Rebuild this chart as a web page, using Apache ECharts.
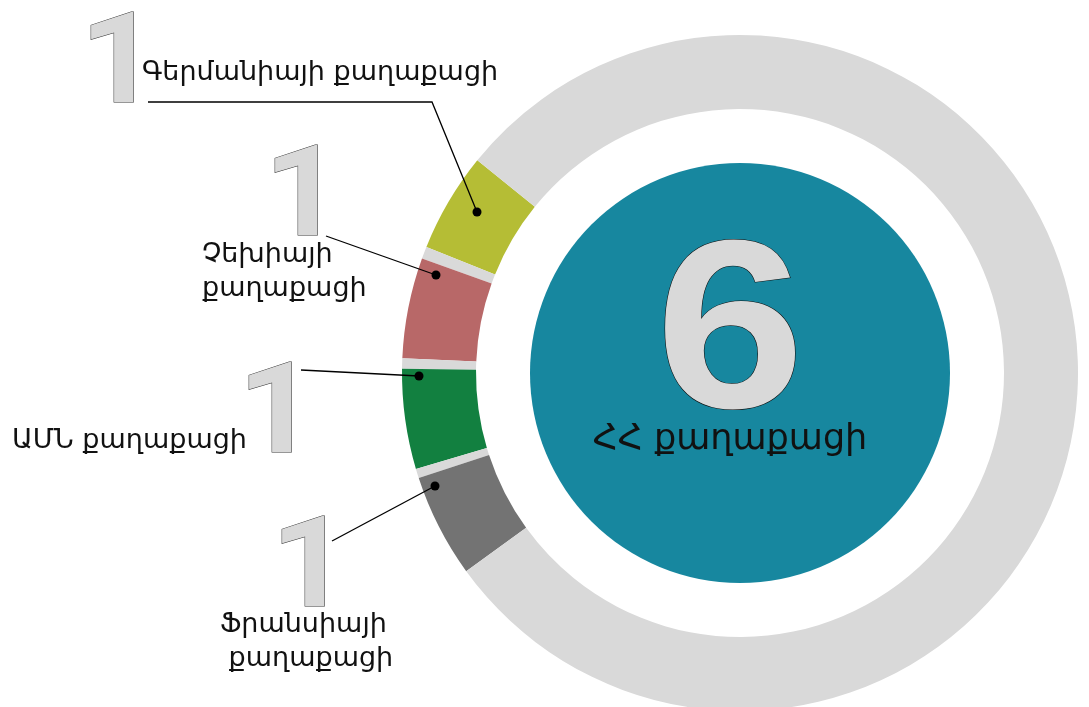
<!DOCTYPE html>
<html>
<head>
<meta charset="utf-8">
<script src="https://cdn.jsdelivr.net/npm/echarts@6/dist/echarts.min.js"></script>
<style>
  html, body { margin: 0; padding: 0; background: #fff; }
  #chart { width: 1089px; height: 707px; }
</style>
</head>
<body>
<div id="chart"></div>
<script>
// citizens by country (foreign ones around the ring, Armenian in the centre)
const countries = ["Գերմանիայի քաղաքացի", "Չեխիայի\nքաղաքացի", "ԱՄՆ քաղաքացի", "Ֆրանսիայի\n քաղաքացի"];
const counts = [1, 1, 1, 1];
const segColors = ["#b5bd35", "#b86868", "#128040", "#737373"];
// angular span of each coloured piece and the light gaps between them (degrees)
const segSpans = [17.1, 17.3, 17.2, 17.8];
const gapSpans = [2.1, 1.8, 1.6];
const hhLabel = "ՀՀ քաղաքացի";
const hhCount = 6;

const ringGrey = "#d9d9d9";
const teal = "#17879f";
const cx = 740, cy = 373;

const ringData = [];
segSpans.forEach((v, i) => {
  ringData.push({ name: countries[i], value: v, itemStyle: { color: segColors[i] } });
  if (i < gapSpans.length) ringData.push({ name: "gap" + i, value: gapSpans[i], itemStyle: { color: ringGrey } });
});
const used = ringData.reduce((s, d) => s + d.value, 0);
ringData.push({ name: "rest", value: 360 - used, itemStyle: { color: ringGrey } });

// label layout: where the big digit, caption and leader line sit
const labelLayout = [
  { digit: [119, 70], text: [142, 73], line: [[148, 102], [432, 102], [477, 212]] },
  { digit: [303, 203], text: [202, 272], line: [[326, 236], [436, 275]] },
  { digit: [277, 420], text: [12, 441], line: [[301, 370], [419, 376]] },
  { digit: [310, 574], text: [220, 642], line: [[332, 541], [435, 486]] }
];

const armFont = '"DejaVu Sans", sans-serif';
const oneFont = 'Roboto, sans-serif';
const sixFont = '"Liberation Sans", Arial, sans-serif';

const graphics = [];
labelLayout.forEach((l, i) => {
  graphics.push({
    type: "text", z: 10,
    x: l.digit[0], y: l.digit[1], scaleX: 1.08,
    style: {
      x: 0, y: 0, text: String(counts[i]),
      font: "bold 126px " + oneFont,
      fill: ringGrey, stroke: "#333", lineWidth: 1,
      align: "center", verticalAlign: "middle"
    }
  });
  graphics.push({
    type: "text", z: 10,
    style: {
      x: l.text[0], y: l.text[1], text: countries[i],
      font: "27px " + armFont, fill: "#111", lineHeight: 34,
      align: "left", verticalAlign: "middle"
    }
  });
  graphics.push({
    type: "polyline", z: 10,
    shape: { points: l.line },
    style: { stroke: "#000", lineWidth: 1.3, fill: null }
  });
  const end = l.line[l.line.length - 1];
  graphics.push({
    type: "circle", z: 11,
    shape: { cx: end[0], cy: end[1], r: 4.5 },
    style: { fill: "#000" }
  });
});

graphics.push({
  type: "text", z: 10,
  x: 730, y: 341, scaleX: 1.12,
  style: {
    x: 0, y: 0, text: String(hhCount),
    font: "bold 240px " + sixFont,
    fill: ringGrey, stroke: "#111", lineWidth: 1,
    align: "center", verticalAlign: "middle"
  }
});
graphics.push({
  type: "text", z: 10,
  style: {
    x: 730, y: 440, text: hhLabel,
    font: "35px " + armFont, fill: "#111",
    align: "center", verticalAlign: "middle"
  }
});

const chart = echarts.init(document.getElementById("chart"), null, { renderer: "canvas" });
chart.setOption({
  animation: false,
  backgroundColor: "#fff",
  series: [
    {
      type: "pie",
      center: [cx, cy],
      radius: [264, 338],
      startAngle: 141,
      clockwise: false,
      silent: true,
      label: { show: false },
      labelLine: { show: false },
      itemStyle: { borderWidth: 0 },
      data: ringData
    },
    {
      type: "pie",
      center: [cx, cy],
      radius: [0, 210],
      silent: true,
      label: { show: false },
      labelLine: { show: false },
      itemStyle: { borderWidth: 0 },
      data: [{ name: hhLabel, value: hhCount, itemStyle: { color: teal } }]
    }
  ],
  graphic: graphics
});
</script>
</body>
</html>
